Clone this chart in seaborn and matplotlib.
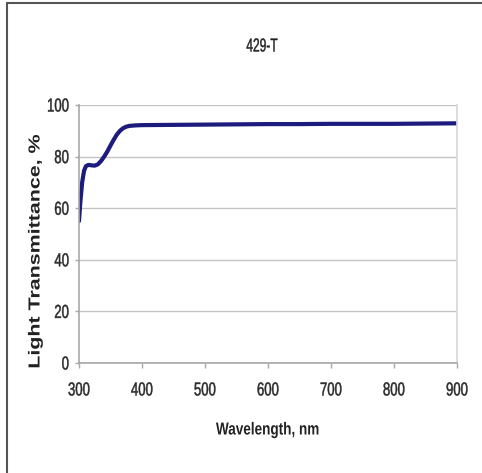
import matplotlib
matplotlib.use("Agg")
import matplotlib.pyplot as plt
import seaborn as sns
import pandas as pd
from matplotlib.lines import Line2D
from matplotlib.patheffects import AbstractPathEffect
from matplotlib.transforms import Affine2D

wavelength = [300, 302, 305, 308, 311, 315, 320, 325, 330, 335, 340, 345, 350, 355, 360, 365,
              370, 375, 380, 385, 390, 400, 450, 500, 550, 600, 650, 700, 750, 800, 850, 900]
transmittance = [55.0, 62.0, 70.0, 74.5, 76.3, 76.8, 76.6, 76.5, 77.0, 78.3, 80.0, 82.0, 84.3, 86.5, 88.5, 90.0,
                 91.0, 91.6, 91.9, 92.0, 92.1, 92.2, 92.3, 92.4, 92.5, 92.6, 92.6, 92.7, 92.7, 92.7, 92.8, 92.9]
x_ticks = [300, 400, 500, 600, 700, 800, 900]
y_ticks = [0, 20, 40, 60, 80, 100]
title = "429-T"
x_label = "Wavelength, nm"
y_label = "Light Transmittance, %"

df = pd.DataFrame({"Wavelength": wavelength, "T": transmittance})


class Stretch(AbstractPathEffect):
    """Scale rendered glyph outlines (condensed / expanded look), optional thin stroke."""
    def __init__(self, sx=1.0, sy=1.0, anchor="center", stroke=0.0):
        super().__init__()
        self.sx, self.sy, self.anchor, self.stroke = sx, sy, anchor, stroke

    def draw_path(self, renderer, gc, tpath, affine, rgbFace=None):
        ext = tpath.get_extents()
        if self.anchor == "right":
            cx = ext.x1
        elif self.anchor == "left":
            cx = ext.x0
        else:
            cx = (ext.x0 + ext.x1) / 2
        cy = (ext.y0 + ext.y1) / 2
        t = Affine2D().translate(-cx, -cy).scale(self.sx, self.sy).translate(cx, cy) + affine
        gc0 = renderer.new_gc()
        gc0.copy_properties(gc)
        if self.stroke > 0 and rgbFace is not None:
            gc0.set_foreground(rgbFace)
            gc0.set_linewidth(self.stroke)
        renderer.draw_path(gc0, tpath, t, rgbFace)
        gc0.restore()


sns.set_theme(style="white")
plt.rcParams["font.family"] = ["Liberation Sans", "DejaVu Sans"]

fig = plt.figure(figsize=(4.82, 4.73), dpi=100)
ax = fig.add_axes([79/482, 1-363/473, (457-79)/482, (363-105)/473])

sns.lineplot(data=df, x="Wavelength", y="T", ax=ax, color="#1c1c7e", linewidth=3.0)

ax.set_xlim(300, 900)
ax.set_ylim(0, 100)
ax.set_xticks(x_ticks)
ax.set_yticks(y_ticks)
ax.set_xticklabels([str(v) for v in x_ticks])
ax.set_yticklabels([str(v) for v in y_ticks])
ax.grid(axis="y", color="#c4c4c4", linewidth=1.0)
ax.set_axisbelow(True)
ax.spines["top"].set_visible(False)
ax.spines["right"].set_visible(True)
ax.spines["right"].set_color("#d8d8d8")
ax.spines["left"].set_color("#a8a8a8")
ax.spines["bottom"].set_color("#a8a8a8")
ax.spines["left"].set_linewidth(1.2)
ax.spines["bottom"].set_linewidth(1.2)
ax.tick_params(axis="x", length=3.5, width=1.0, color="#a8a8a8", labelsize=13.5,
               labelcolor="#2a2a2a", pad=10.5, direction="out", bottom=True)
ax.tick_params(axis="y", length=3, width=1.0, color="#a8a8a8", labelsize=13.5,
               labelcolor="#2a2a2a", pad=4, direction="out", left=True)
for lab in ax.get_xticklabels():
    lab.set_path_effects([Stretch(0.7, 1.0, "center", stroke=0.35)])
for lab in ax.get_yticklabels():
    lab.set_path_effects([Stretch(0.7, 1.0, "right", stroke=0.35)])
ax.set_xlabel("")
ax.set_ylabel("")

fig.text(262/482, 1-47/473, title, ha="center", va="center", fontsize=13.5, color="#222222",
         path_effects=[Stretch(0.64, 1.0, "center", stroke=0.3)])
fig.text(268/482, 1-430/473, x_label, ha="center", va="center", fontsize=12.5,
         fontweight="bold", color="#222222", path_effects=[Stretch(0.78, 1.0, "center")])
fig.text(35/482, 1-251/473, y_label, ha="center", va="center", fontsize=11.5,
         fontweight="bold", rotation=90, color="#222222", path_effects=[Stretch(1.34, 1.0, "center")])

fig.add_artist(Line2D([7/482, 7/482], [0, 1-3/473], transform=fig.transFigure, color="#555555", linewidth=1.5))
fig.add_artist(Line2D([7/482, 1], [1-3/473, 1-3/473], transform=fig.transFigure, color="#555555", linewidth=1.5))

fig.savefig("out.png", dpi=100)
